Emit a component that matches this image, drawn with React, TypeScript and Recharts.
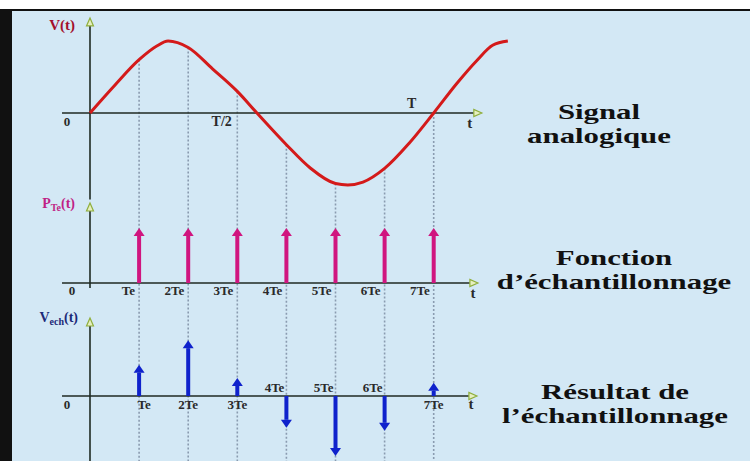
import React from 'react';
import { ComposedChart, Line, XAxis, YAxis, ReferenceLine, ReferenceDot } from 'recharts';

// analog signal: t in units of Te, v relative to the peak
const signalT = [0, 0.51, 1, 1.36, 1.59, 2, 2.5, 3, 3.4, 4, 4.48, 5, 5.25, 5.56, 6, 6.5, 7, 7.47, 7.88, 8.2, 8.51];
const signalV = [0, 0.39, 0.74, 0.93, 1, 0.91, 0.61, 0.3, 0, -0.44, -0.76, -0.98, -1, -0.96, -0.77, -0.42, 0, 0.41, 0.73, 0.94, 1];

// sampling instants and the two impulse trains
const sampleT = [1, 2, 3, 4, 5, 6, 7];
const teLabels = ['Te', '2Te', '3Te', '4Te', '5Te', '6Te', '7Te'];
const pulseV = [1, 1, 1, 1, 1, 1, 1];
const echV = [0.52, 0.93, 0.3, -0.53, -1.0, -0.58, 0.22];

const signalData = signalT.map((t, i) => ({ t, v: signalV[i] }));

const W = 750;
const H = 461;
const X0 = 90; // pixel of t = 0
const TE = 49.1; // pixels per Te
const xDomain = [-X0 / TE, (W - X0) / TE];
const panelDomain = (zero: number, unit: number) => [-(H - zero) / unit, zero / unit];
const sigDomain = panelDomain(113, 72);
const pulseDomain = panelDomain(283, 55);
const echDomain = panelDomain(396, 60);

const FONT = '"Liberation Serif", "DejaVu Serif", serif';
const BG = '#d3e8f5';
const AXIS = '#1f2a22';
const PINK = '#d0157f';
const BLUE = '#0f22cc';
const RED = '#d41a1a';

// axis line with a small open arrowhead at (x2, y2)
const axisShape = (p: any) => {
  const { x1, y1, x2, y2 } = p;
  const len = Math.hypot(x2 - x1, y2 - y1) || 1;
  const ux = (x2 - x1) / len;
  const uy = (y2 - y1) / len;
  const bx = x2 - ux * 8;
  const by = y2 - uy * 8;
  const px = -uy * 3.5;
  const py = ux * 3.5;
  return (
    <g>
      <line x1={x1} y1={y1} x2={bx} y2={by} stroke={AXIS} strokeWidth={1.6} />
      <polygon
        points={`${bx + px},${by + py} ${bx - px},${by - py} ${x2},${y2}`}
        fill="#e6efc0"
        stroke="#8fae3c"
        strokeWidth={1.2}
      />
    </g>
  );
};

// thick impulse with filled arrowhead
const impulseShape = (color: string) => (p: any) => {
  const { x1, y1, x2, y2 } = p;
  const dir = y2 < y1 ? -1 : 1;
  const by = y2 - dir * 8;
  return (
    <g>
      <line x1={x1} y1={y1} x2={x2} y2={by} stroke={color} strokeWidth={4} />
      <polygon points={`${x2 - 5.5},${by} ${x2 + 5.5},${by} ${x2},${y2}`} fill={color} />
    </g>
  );
};

const textShape =
  (label: React.ReactNode, dx: number, dy: number, anchor = 'middle', size = 13, color = '#2a2a2a') =>
  (p: any) => (
    <text
      x={p.cx + dx}
      y={p.cy + dy}
      textAnchor={anchor}
      fontFamily={FONT}
      fontWeight="bold"
      fontSize={size}
      fill={color}
    >
      {label}
    </text>
  );

const Title = ({ lines, cx, top }: { lines: string[]; cx: number; top: number }) => (
  <div
    style={{
      position: 'absolute',
      left: cx - 100,
      top,
      width: 200,
      textAlign: 'center',
      whiteSpace: 'nowrap',
      fontFamily: FONT,
      fontWeight: 'bold',
      fontSize: 22,
      lineHeight: '24px',
      color: '#111',
      transform: 'scaleX(1.4)',
      transformOrigin: 'center',
    }}
  >
    {lines.map((l) => (
      <div key={l}>{l}</div>
    ))}
  </div>
);

export default function App() {
  const sampleAt = (t: number) => signalV[signalT.indexOf(t)];

  return (
    <div style={{ position: 'fixed', left: 0, top: 0, width: W + 40, height: H + 40, background: BG, overflow: 'hidden' }}>
      <style>{`html, body { margin: 0; padding: 0; overflow: hidden; background: ${BG}; }`}</style>
      <div style={{ position: 'absolute', left: 0, top: 0, width: W + 40, height: 9, background: '#fff' }} />
      <div style={{ position: 'absolute', left: 0, top: 9, width: W + 40, height: 2, background: '#111' }} />
      <div style={{ position: 'absolute', left: 0, top: 9, width: 12, height: H + 40, background: '#111' }} />
      <div style={{ position: 'absolute', left: 0, top: 0 }}>
        <ComposedChart width={W} height={H} data={signalData} margin={{ top: 0, right: 0, bottom: 0, left: 0 }}>
          <XAxis dataKey="t" type="number" domain={xDomain} allowDataOverflow hide />
          <YAxis yAxisId="sig" type="number" domain={sigDomain} allowDataOverflow hide />
          <YAxis yAxisId="pulse" type="number" domain={pulseDomain} allowDataOverflow hide />
          <YAxis yAxisId="ech" type="number" domain={echDomain} allowDataOverflow hide />

          {/* dotted guides from the curve down through every panel */}
          {sampleT.map((t) => (
            <ReferenceLine
              key={`g${t}`}
              yAxisId="sig"
              ifOverflow="visible"
              segment={[{ x: t, y: sampleAt(t) }, { x: t, y: sigDomain[0] }]}
              stroke="#8a9bb0"
              strokeWidth={1.6}
              strokeDasharray="2 2"
            />
          ))}

          {/* axes */}
          <ReferenceLine yAxisId="sig" ifOverflow="visible" segment={[{ x: -0.57, y: 0 }, { x: 7.98, y: 0 }]} shape={axisShape} />
          <ReferenceLine yAxisId="sig" ifOverflow="visible" segment={[{ x: 0, y: -1.2 }, { x: 0, y: 1.32 }]} shape={axisShape} />
          <ReferenceLine yAxisId="pulse" ifOverflow="visible" segment={[{ x: -0.57, y: 0 }, { x: 7.9, y: 0 }]} shape={axisShape} />
          <ReferenceLine yAxisId="pulse" ifOverflow="visible" segment={[{ x: 0, y: -0.09 }, { x: 0, y: 1.455 }]} shape={axisShape} />
          <ReferenceLine yAxisId="ech" ifOverflow="visible" segment={[{ x: -0.57, y: 0 }, { x: 7.88, y: 0 }]} shape={axisShape} />
          <ReferenceLine yAxisId="ech" ifOverflow="visible" segment={[{ x: 0, y: -1.1 }, { x: 0, y: 1.3 }]} shape={axisShape} />

          <Line
            yAxisId="sig"
            dataKey="v"
            type="monotone"
            stroke={RED}
            strokeWidth={3}
            dot={false}
            activeDot={false}
            isAnimationActive={false}
          />

          {sampleT.map((t, i) => (
            <ReferenceLine
              key={`p${t}`}
              yAxisId="pulse"
              ifOverflow="visible"
              segment={[{ x: t, y: 0 }, { x: t, y: pulseV[i] }]}
              shape={impulseShape(PINK)}
            />
          ))}
          {sampleT.map((t, i) => (
            <ReferenceLine
              key={`e${t}`}
              yAxisId="ech"
              ifOverflow="visible"
              segment={[{ x: t, y: 0 }, { x: t, y: echV[i] }]}
              shape={impulseShape(BLUE)}
            />
          ))}

          {/* panel 1 labels */}
          <ReferenceDot yAxisId="sig" x={0} y={0} ifOverflow="visible" shape={textShape('0', -23, 13)} />
          <ReferenceDot yAxisId="sig" x={3.5} y={0} ifOverflow="visible" shape={textShape('T/2', -30, 13, 'end', 14)} />
          <ReferenceDot yAxisId="sig" x={7} y={0} ifOverflow="visible" shape={textShape('T', -22, -5, 'middle', 14)} />
          <ReferenceDot yAxisId="sig" x={7.98} y={0} ifOverflow="visible" shape={textShape('t', -12, 15, 'middle', 15)} />
          <ReferenceDot
            yAxisId="sig"
            x={0}
            y={1.32}
            ifOverflow="visible"
            shape={textShape('V(t)', -15, 12, 'end', 15, '#a3102c')}
          />

          {/* panel 2 labels */}
          <ReferenceDot yAxisId="pulse" x={0} y={0} ifOverflow="visible" shape={textShape('0', -18, 12)} />
          {sampleT.map((t, i) => (
            <ReferenceDot
              key={`pl${t}`}
              yAxisId="pulse"
              x={t}
              y={0}
              ifOverflow="visible"
              shape={textShape(teLabels[i], -4, 12, 'end')}
            />
          ))}
          <ReferenceDot yAxisId="pulse" x={7.9} y={0} ifOverflow="visible" shape={textShape('t', -5, 15, 'middle', 15)} />
          <ReferenceDot
            yAxisId="pulse"
            x={0}
            y={1.455}
            ifOverflow="visible"
            shape={textShape(
              <>
                P<tspan fontSize={10} dy={3}>Te</tspan>
                <tspan dy={-3}>(t)</tspan>
              </>,
              -15,
              5,
              'end',
              14,
              '#c01f86',
            )}
          />

          {/* panel 3 labels: under the axis for positive samples, above for negative */}
          <ReferenceDot yAxisId="ech" x={0} y={0} ifOverflow="visible" shape={textShape('0', -23, 13)} />
          {sampleT.map((t, i) => (
            <ReferenceDot
              key={`el${t}`}
              yAxisId="ech"
              x={t}
              y={0}
              ifOverflow="visible"
              shape={echV[i] < 0 ? textShape(teLabels[i], -2, -4, 'end') : textShape(teLabels[i], i === 0 ? 5 : 0, 13)}
            />
          ))}
          <ReferenceDot yAxisId="ech" x={7.88} y={0} ifOverflow="visible" shape={textShape('t', -6, 13, 'middle', 15)} />
          <ReferenceDot
            yAxisId="ech"
            x={0}
            y={1.3}
            ifOverflow="visible"
            shape={textShape(
              <>
                V<tspan fontSize={10} dy={3}>ech</tspan>
                <tspan dy={-3}>(t)</tspan>
              </>,
              -12,
              4,
              'end',
              14,
              '#1c2a78',
            )}
          />
        </ComposedChart>
      </div>

      <Title lines={['Signal', 'analogique']} cx={599} top={100} />
      <Title lines={['Fonction', 'd\u2019échantillonnage']} cx={614} top={246} />
      <Title lines={['Résultat de', 'l\u2019échantillonnage']} cx={615} top={380} />
    </div>
  );
}
